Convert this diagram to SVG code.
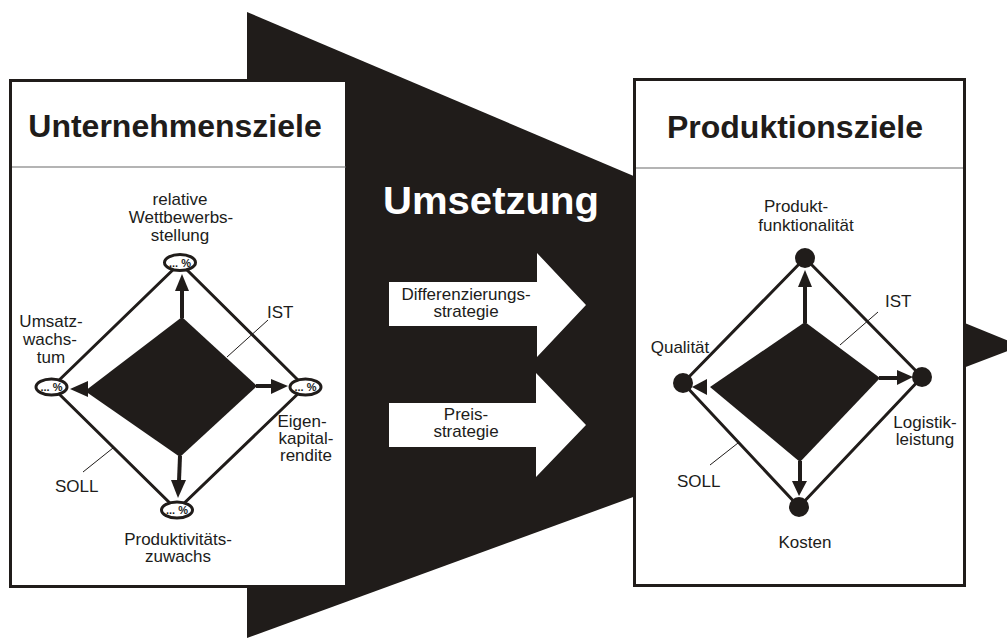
<svg xmlns="http://www.w3.org/2000/svg" width="1007" height="638" viewBox="0 0 1007 638">
  <style>
    .ink { fill: #201c1a; }
    .box { fill: #ffffff; stroke: #201c1a; stroke-width: 3; }
    .rule { stroke: #6b6b6b; stroke-width: 1.2; fill: none; }
    .title { font-family: "Liberation Sans", Arial, sans-serif; font-weight: bold; font-size: 32px; fill: #201c1a; text-anchor: middle; }
    .big { font-family: "Liberation Sans", Arial, sans-serif; font-weight: bold; font-size: 38px; fill: #ffffff; }
    .lbl { font-family: "Liberation Sans", Arial, sans-serif; font-size: 17px; fill: #201c1a; text-anchor: middle; }
    .lbl-s { font-family: "Liberation Sans", Arial, sans-serif; font-size: 17px; fill: #201c1a; }
    .pct { font-family: "Liberation Sans", Arial, sans-serif; font-size: 11px; font-weight: bold; fill: #201c1a; text-anchor: middle; }
    .soll { fill: none; stroke: #201c1a; stroke-width: 3; stroke-linejoin: round; }
    .shaft { stroke: #201c1a; stroke-width: 4; fill: none; }
    .lead { stroke: #201c1a; stroke-width: 1; fill: none; }
    .oval { fill: #ffffff; stroke: #201c1a; stroke-width: 3; }
  </style>

  <!-- big transformation funnel and the outgoing wedge -->
  <g id="funnel">
    <polygon class="ink" points="247,12 636,177 636,496 247,638"/>
    <polygon class="ink" points="950,317 1021,346 950,373"/>
    <text class="big" x="383" y="214" textLength="216" lengthAdjust="spacingAndGlyphs">Umsetzung</text>
  </g>

  <!-- strategy arrows inside the funnel -->
  <g id="strategy-diff">
    <polygon fill="#ffffff" points="389,282 537,282 537,253 586,305 537,357 537,326 389,326"/>
    <text class="lbl" x="466" y="300">Differenzierungs-</text>
    <text class="lbl" x="466" y="317">strategie</text>
  </g>
  <g id="strategy-price">
    <polygon fill="#ffffff" points="389,403 536,403 536,373 586,425 536,477 536,447 389,447"/>
    <text class="lbl" x="466" y="420">Preis-</text>
    <text class="lbl" x="466" y="437">strategie</text>
  </g>

  <!-- left panel: corporate goals -->
  <g id="corporate-goals">
    <rect class="box" x="10.5" y="80.5" width="336" height="506"/>
    <line class="rule" x1="12" y1="167" x2="346" y2="167"/>
    <text class="title" x="175" y="137">Unternehmensziele</text>

    <text class="lbl" x="180" y="205">relative</text>
    <text class="lbl" x="181" y="223">Wettbewerbs-</text>
    <text class="lbl" x="180" y="241">stellung</text>

    <text class="lbl" x="51" y="327">Umsatz-</text>
    <text class="lbl" x="50" y="345">wachs-</text>
    <text class="lbl" x="51" y="363">tum</text>

    <text class="lbl" x="302" y="427">Eigen-</text>
    <text class="lbl" x="306" y="444">kapital-</text>
    <text class="lbl" x="306" y="461">rendite</text>

    <text class="lbl" x="178" y="545">Produktivitäts-</text>
    <text class="lbl" x="178" y="562">zuwachs</text>

    <text class="lbl-s" x="267" y="318">IST</text>
    <text class="lbl-s" x="55" y="492">SOLL</text>
  </g>

  <!-- right panel: production goals -->
  <g id="production-goals">
    <rect class="box" x="634.5" y="79.5" width="330" height="506"/>
    <line class="rule" x1="636" y1="168" x2="963" y2="168"/>
    <text class="title" x="795" y="138">Produktionsziele</text>

    <text class="lbl" x="796" y="212">Produkt-</text>
    <text class="lbl" x="806" y="231">funktionalität</text>
    <text class="lbl" x="680" y="353">Qualität</text>
    <text class="lbl" x="925" y="428">Logistik-</text>
    <text class="lbl" x="925" y="445">leistung</text>
    <text class="lbl" x="805" y="548">Kosten</text>

    <text class="lbl-s" x="885" y="307">IST</text>
    <text class="lbl-s" x="677" y="487">SOLL</text>
  </g>

  <!-- radar charts: target outline, actual area, arrows, leaders -->
  <g id="connectors">
    <g id="radar-left">
      <polygon class="soll" points="180,263 305,387 177,510 52,387"/>
      <polygon class="ink" points="182,317 257,386 180,457 85,391"/>
      <line class="shaft" x1="182" y1="318" x2="182" y2="290"/>
      <polygon class="ink" points="182,274 175,291 189,291"/>
      <line class="shaft" x1="256" y1="386" x2="273" y2="386"/>
      <polygon class="ink" points="288,386 271,379 271,394"/>
      <polygon class="ink" points="70,389 88,381 88,397"/>
      <line class="shaft" x1="180" y1="456" x2="179" y2="481"/>
      <polygon class="ink" points="178,498 171,480 186,480"/>
      <line class="lead" x1="268" y1="320" x2="227" y2="357"/>
      <line class="lead" x1="83" y1="472" x2="113" y2="448"/>
    </g>
    <g id="radar-right">
      <polygon class="soll" points="805,258 922,377 799,507 683,383"/>
      <polygon class="ink" points="805,322 880,378 800,462 710,387"/>
      <line class="shaft" x1="805" y1="323" x2="805" y2="285"/>
      <polygon class="ink" points="805,270 798,287 812,287"/>
      <line class="shaft" x1="879" y1="378" x2="899" y2="378"/>
      <polygon class="ink" points="913,377 897,370 897,385"/>
      <polygon class="ink" points="692,387 707,379 707,395"/>
      <line class="shaft" x1="800" y1="461" x2="800" y2="483"/>
      <polygon class="ink" points="799,496 792,481 807,481"/>
      <line class="lead" x1="878" y1="312" x2="840" y2="345"/>
      <line class="lead" x1="710" y1="465" x2="738" y2="443"/>
    </g>
  </g>

  <!-- value markers on the corporate axes -->
  <g id="axis-relative-position">
    <ellipse class="oval" cx="180" cy="262.5" rx="15.5" ry="8"/>
    <text class="pct" x="180" y="266.5">... %</text>
  </g>
  <g id="axis-revenue-growth">
    <ellipse class="oval" cx="51.5" cy="387" rx="15.5" ry="8"/>
    <text class="pct" x="51.5" y="391">... %</text>
  </g>
  <g id="axis-equity-return">
    <ellipse class="oval" cx="305.5" cy="387" rx="15.5" ry="8"/>
    <text class="pct" x="305.5" y="391">... %</text>
  </g>
  <g id="axis-productivity">
    <ellipse class="oval" cx="177" cy="510" rx="15.5" ry="8"/>
    <text class="pct" x="177" y="514">... %</text>
  </g>

  <!-- markers on the production axes -->
  <g id="axis-functionality"><circle class="ink" cx="805" cy="258" r="10"/></g>
  <g id="axis-quality"><circle class="ink" cx="683" cy="383" r="10"/></g>
  <g id="axis-logistics"><circle class="ink" cx="922" cy="377" r="10"/></g>
  <g id="axis-cost"><circle class="ink" cx="799" cy="507" r="10"/></g>
</svg>
